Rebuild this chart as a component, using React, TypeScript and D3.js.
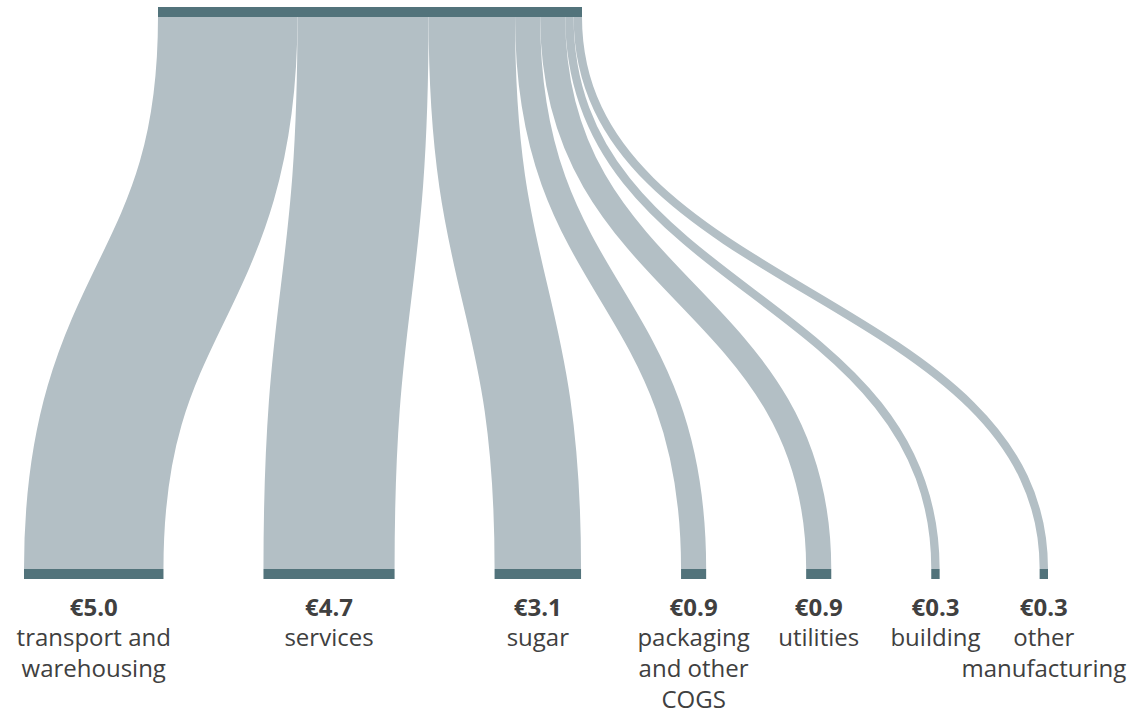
import React from "react";
import * as d3 from "d3";

const categories = ["transport and warehousing", "services", "sugar", "packaging and other COGS", "utilities", "building", "other manufacturing"];
const values = [5.0, 4.7, 3.1, 0.9, 0.9, 0.3, 0.3];
const labelLines = [
  ["transport and", "warehousing"],
  ["services"],
  ["sugar"],
  ["packaging", "and other", "COGS"],
  ["utilities"],
  ["building"],
  ["other", "manufacturing"],
];

const W = 1130;
const H = 715;
const TOP_X0 = 158;
const TOP_Y0 = 7;
const TOP_Y1 = 17;
const BOT_Y0 = 569;
const BOT_Y1 = 579;
const BOT_X0 = 24;
const GAP = 100;
const BAR_COLOR = "#52737b";
const LINK_COLOR = "#b3bfc5";
const TEXT_COLOR = "#404040";

export default function App() {
  const total = d3.sum(values);
  const w = d3.scaleLinear().domain([0, total]).range([0, 424]);

  const topCum: number[] = [];
  const botCum: number[] = [];
  let acc = 0;
  values.forEach((v, i) => {
    topCum.push(TOP_X0 + w(acc));
    botCum.push(BOT_X0 + w(acc) + i * GAP);
    acc += v;
  });

  const link = d3
    .linkVertical<any, [number, number]>()
    .source((d: any) => d.s)
    .target((d: any) => d.t);

  const links = values.map((v, i) => {
    const width = w(v);
    return {
      name: categories[i],
      width,
      s: [topCum[i] + width / 2, TOP_Y1] as [number, number],
      t: [botCum[i] + width / 2, BOT_Y0] as [number, number],
    };
  });

  return (
    <svg
      width={W}
      height={H}
      style={{ position: "absolute", left: 0, top: 0, fontFamily: "'Open Sans', sans-serif" }}
    >
      <g>
        {links.map((l, i) => (
          <path
            key={"l" + i}
            d={link(l as any) || ""}
            fill="none"
            stroke={LINK_COLOR}
            strokeWidth={l.width}
          />
        ))}
      </g>
      <rect x={TOP_X0} y={TOP_Y0} width={w(total)} height={TOP_Y1 - TOP_Y0} fill={BAR_COLOR} />
      {values.map((v, i) => (
        <rect
          key={"b" + i}
          x={botCum[i]}
          y={BOT_Y0}
          width={w(v)}
          height={BOT_Y1 - BOT_Y0}
          fill={BAR_COLOR}
        />
      ))}
      {values.map((v, i) => {
        const cx = botCum[i] + w(v) / 2;
        return (
          <g key={"t" + i} fill={TEXT_COLOR} fontSize={24} textAnchor="middle">
            <text x={cx} y={616} fontWeight="bold">
              {"€" + d3.format(".1f")(v)}
            </text>
            {labelLines[i].map((line, j) => (
              <text key={j} x={cx} y={646 + j * 31}>
                {line}
              </text>
            ))}
          </g>
        );
      })}
    </svg>
  );
}
